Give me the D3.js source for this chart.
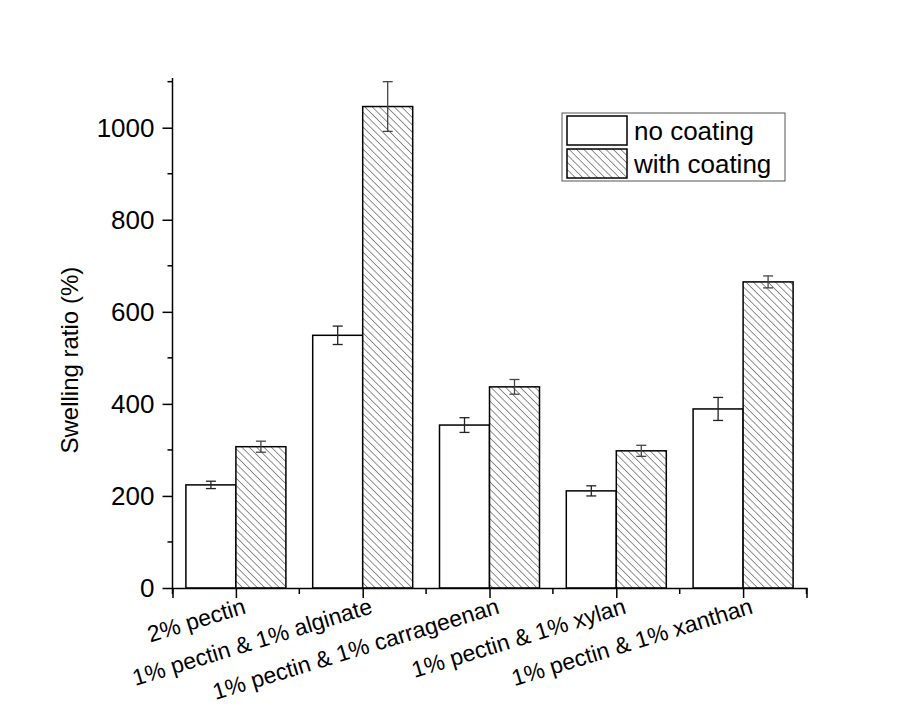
<!DOCTYPE html>
<html>
<head>
<meta charset="utf-8">
<script src="https://cdn.jsdelivr.net/npm/d3@7"></script>
<style>
  body { margin: 0; background: #fff; }
  text { font-family: Arial, "Liberation Sans", sans-serif; fill: #000; }
</style>
</head>
<body>
<svg id="chart" width="924" height="706"></svg>
<script>
var categories = ["2% pectin", "1% pectin & 1% alginate", "1% pectin & 1% carrageenan",
                  "1% pectin & 1% xylan", "1% pectin & 1% xanthan"];
var noCoating = [224, 549, 354, 211, 389];
var noCoatingErr = [8, 20, 16, 11, 25];
var withCoating = [307, 1046, 437, 298, 665];
var withCoatingErr = [12, 54, 16, 12, 13];
var seriesNames = ["no coating", "with coating"];
var yTicks = [0, 200, 400, 600, 800, 1000];
var yMinor = [100, 300, 500, 700, 900, 1100];

var svg = d3.select("#chart");

// hatch pattern, lines running top-left to bottom-right
var defs = svg.append("defs");
var pat = defs.append("pattern").attr("id", "hatch")
  .attr("patternUnits", "userSpaceOnUse").attr("width", 5.2).attr("height", 5.2)
  .attr("patternTransform", "rotate(-45)");
pat.append("rect").attr("width", 5.2).attr("height", 5.2).attr("fill", "#fff");
pat.append("line").attr("x1", 0).attr("y1", 0).attr("x2", 0).attr("y2", 5.2)
  .attr("stroke", "#555").attr("stroke-width", 1.3);

var x = d3.scaleLinear().domain([0.5, 5.5]).range([172.5, 806.5]);
var y = d3.scaleLinear().domain([0, 1108]).range([588, 78]);
var barW = 50;

var data = categories.map(function(c, i) {
  return {cat: c, i: i + 1,
    vals: [{s: 0, v: noCoating[i], e: noCoatingErr[i]},
           {s: 1, v: withCoating[i], e: withCoatingErr[i]}]};
});

var groups = svg.selectAll("g.grp").data(data).enter().append("g").attr("class", "grp");

groups.selectAll("rect").data(d => d.vals.map(v => Object.assign({i: d.i}, v)))
  .enter().append("rect")
  .attr("x", d => x(d.i) + (d.s === 0 ? -barW : 0))
  .attr("y", d => y(d.v))
  .attr("width", barW)
  .attr("height", d => y(0) - y(d.v))
  .attr("fill", d => d.s === 0 ? "#fff" : "url(#hatch)")
  .attr("stroke", "#000").attr("stroke-width", 1.5);

// error bars
var eb = groups.selectAll("g.eb").data(d => d.vals.map(v => Object.assign({i: d.i}, v)))
  .enter().append("g").attr("class", "eb")
  .attr("stroke", d => d.s === 0 ? "#222" : "#444").attr("stroke-width", 1.3);
var cx = d => x(d.i) + (d.s === 0 ? -barW / 2 : barW / 2);
eb.append("line").attr("x1", cx).attr("x2", cx)
  .attr("y1", d => y(d.v - d.e)).attr("y2", d => y(d.v + d.e));
eb.append("line").attr("x1", d => cx(d) - 5).attr("x2", d => cx(d) + 5)
  .attr("y1", d => y(d.v + d.e)).attr("y2", d => y(d.v + d.e));
eb.append("line").attr("x1", d => cx(d) - 5).attr("x2", d => cx(d) + 5)
  .attr("y1", d => y(d.v - d.e)).attr("y2", d => y(d.v - d.e));

// y axis
var yAxis = svg.append("g").attr("transform", "translate(172.5,0)")
  .call(d3.axisLeft(y).tickValues(yTicks).tickSize(10).tickPadding(8).tickFormat(d3.format("d")));
yAxis.attr("font-size", null).attr("font-family", null);
yAxis.append("g").selectAll("line").data(yMinor).enter().append("line")
  .attr("x1", -5).attr("x2", 0).attr("y1", d => y(d)).attr("y2", d => y(d))
  .attr("stroke", "#000").attr("stroke-width", 1.5);
yAxis.select(".domain").attr("d", "M0," + y(0) + "V78").attr("stroke-width", 1.5);
yAxis.selectAll(".tick line").attr("stroke-width", 1.5);
yAxis.selectAll("text").style("font-size", "26px");

// x axis
var xAxis = svg.append("g").attr("transform", "translate(0,588)")
  .call(d3.axisBottom(x).tickValues(d3.range(1, 6)).tickSize(10).tickFormat(""));
xAxis.select(".domain").attr("stroke-width", 1.5);
xAxis.selectAll(".tick line").attr("stroke-width", 1.5);
xAxis.append("g").selectAll("line").data(d3.range(0.5, 6, 1)).enter().append("line")
  .attr("x1", d => x(d)).attr("x2", d => x(d)).attr("y1", 0).attr("y2", 6)
  .attr("stroke", "#000").attr("stroke-width", 1.5);

svg.append("g").selectAll("text").data(categories).enter().append("text")
  .attr("transform", (d, i) => "translate(" + (x(i + 1) + 11) + ",613) rotate(-17)")
  .attr("text-anchor", "end")
  .style("font-size", "23px").text(d => d);

// y label
svg.append("text")
  .attr("transform", "translate(78," + y(495) + ") rotate(-90)")
  .attr("text-anchor", "middle").style("font-size", "24px")
  .text("Swelling ratio (%)");

// legend
var lg = svg.append("g");
lg.append("rect").attr("x", 562).attr("y", 113).attr("width", 223).attr("height", 68)
  .attr("fill", "#fff").attr("stroke", "#555").attr("stroke-width", 1);
lg.selectAll("g").data(seriesNames).enter().append("g")
  .each(function(d, i) {
    var g = d3.select(this);
    g.append("rect").attr("x", 567).attr("y", 116 + i * 33).attr("width", 60).attr("height", 29)
      .attr("fill", i === 0 ? "#fff" : "url(#hatch)").attr("stroke", "#000").attr("stroke-width", 1.5);
    g.append("text").attr("x", 634).attr("y", 131 + i * 33).attr("dy", "0.36em")
      .style("font-size", "26px").text(d);
  });
</script>
</body>
</html>
